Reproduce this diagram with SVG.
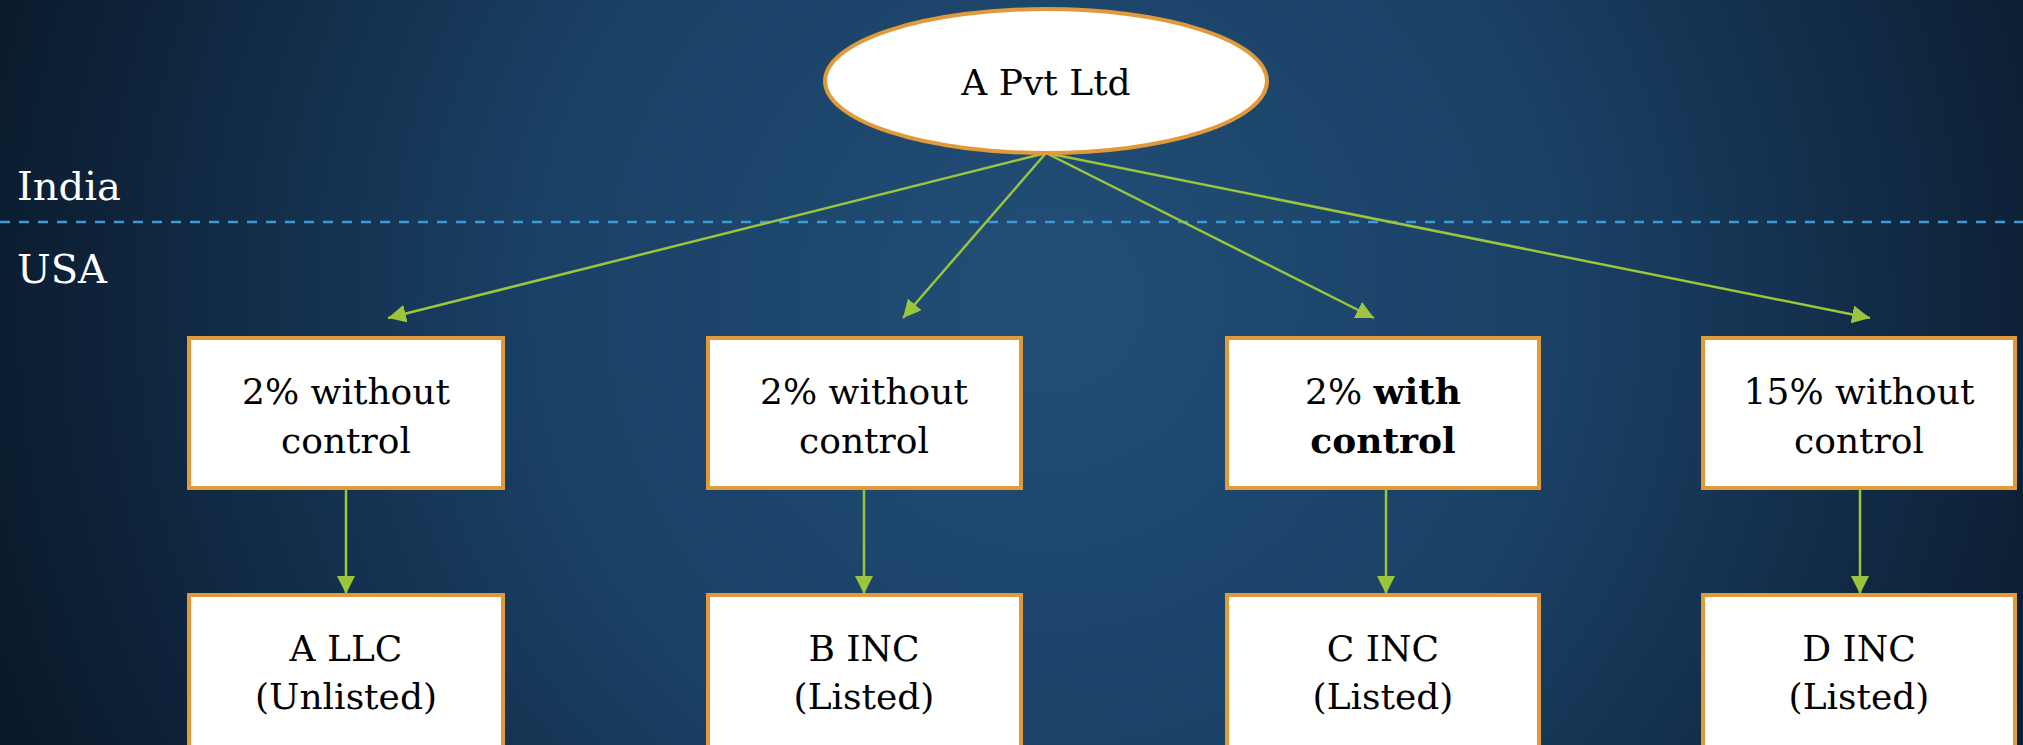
<svg xmlns="http://www.w3.org/2000/svg" width="2023" height="745" viewBox="0 0 2023 745">
  <defs>
    <radialGradient id="bg" cx="1050" cy="300" r="1150" gradientUnits="userSpaceOnUse">
      <stop offset="0" stop-color="#224e76"/>
      <stop offset="0.45" stop-color="#1a4065"/>
      <stop offset="0.8" stop-color="#0f253d"/>
      <stop offset="1" stop-color="#091726"/>
    </radialGradient>
    <marker id="arrow" markerUnits="userSpaceOnUse" markerWidth="20" markerHeight="18" refX="18" refY="9" orient="auto">
      <path d="M0,0 L18,9 L0,18 Z" fill="#9bc53d"/>
    </marker>
    <style>
      .box { fill: #ffffff; stroke: #e09a3a; stroke-width: 4; }
      .lbl { font-family: "DejaVu Serif", "Liberation Serif", serif; font-size: 36px; fill: #000000; text-anchor: middle; }
      .b { font-weight: bold; }
      .region { font-family: "DejaVu Serif", "Liberation Serif", serif; font-size: 40px; fill: #ffffff; }
      .link { stroke: #9bc53d; stroke-width: 2.5; fill: none; marker-end: url(#arrow); }
    </style>
  </defs>

  <!-- backdrop -->
  <rect x="0" y="0" width="2023" height="745" fill="url(#bg)"/>

  <!-- border between the two countries -->
  <line x1="0" y1="222" x2="2023" y2="222" stroke="#3d9ad3" stroke-width="2.5" stroke-dasharray="10 9"/>
  <text class="region" x="17" y="200">India</text>
  <text class="region" x="17" y="283">USA</text>

  <!-- connectors -->
  <g id="connectors">
    <line class="link" x1="1046" y1="153" x2="388" y2="318"/>
    <line class="link" x1="1046" y1="153" x2="903" y2="318"/>
    <line class="link" x1="1046" y1="153" x2="1374" y2="318"/>
    <line class="link" x1="1046" y1="153" x2="1870" y2="318"/>
    <line class="link" x1="346" y1="488" x2="346" y2="594"/>
    <line class="link" x1="864" y1="488" x2="864" y2="594"/>
    <line class="link" x1="1386" y1="488" x2="1386" y2="594"/>
    <line class="link" x1="1860" y1="488" x2="1860" y2="594"/>
  </g>

  <!-- parent company -->
  <g id="a-pvt-ltd">
    <ellipse cx="1046" cy="81" rx="221" ry="72" fill="#ffffff" stroke="#e09a3a" stroke-width="4"/>
    <text class="lbl" x="1046" y="95">A Pvt Ltd</text>
  </g>

  <!-- holding stakes -->
  <g id="stake-a">
    <rect class="box" x="189" y="338" width="314" height="150"/>
    <text class="lbl" x="346" y="404">2% without</text>
    <text class="lbl" x="346" y="453">control</text>
  </g>
  <g id="stake-b">
    <rect class="box" x="708" y="338" width="313" height="150"/>
    <text class="lbl" x="864" y="404">2% without</text>
    <text class="lbl" x="864" y="453">control</text>
  </g>
  <g id="stake-c">
    <rect class="box" x="1227" y="338" width="312" height="150"/>
    <text class="lbl" x="1383" y="404">2% <tspan class="b">with</tspan></text>
    <text class="lbl b" x="1383" y="453">control</text>
  </g>
  <g id="stake-d">
    <rect class="box" x="1703" y="338" width="312" height="150"/>
    <text class="lbl" x="1859" y="404">15% without</text>
    <text class="lbl" x="1859" y="453">control</text>
  </g>

  <!-- US entities -->
  <g id="a-llc">
    <rect class="box" x="189" y="595" width="314" height="165"/>
    <text class="lbl" x="346" y="661">A LLC</text>
    <text class="lbl" x="346" y="709">(Unlisted)</text>
  </g>
  <g id="b-inc">
    <rect class="box" x="708" y="595" width="313" height="165"/>
    <text class="lbl" x="864" y="661">B INC</text>
    <text class="lbl" x="864" y="709">(Listed)</text>
  </g>
  <g id="c-inc">
    <rect class="box" x="1227" y="595" width="312" height="165"/>
    <text class="lbl" x="1383" y="661">C INC</text>
    <text class="lbl" x="1383" y="709">(Listed)</text>
  </g>
  <g id="d-inc">
    <rect class="box" x="1703" y="595" width="312" height="165"/>
    <text class="lbl" x="1859" y="661">D INC</text>
    <text class="lbl" x="1859" y="709">(Listed)</text>
  </g>
</svg>
